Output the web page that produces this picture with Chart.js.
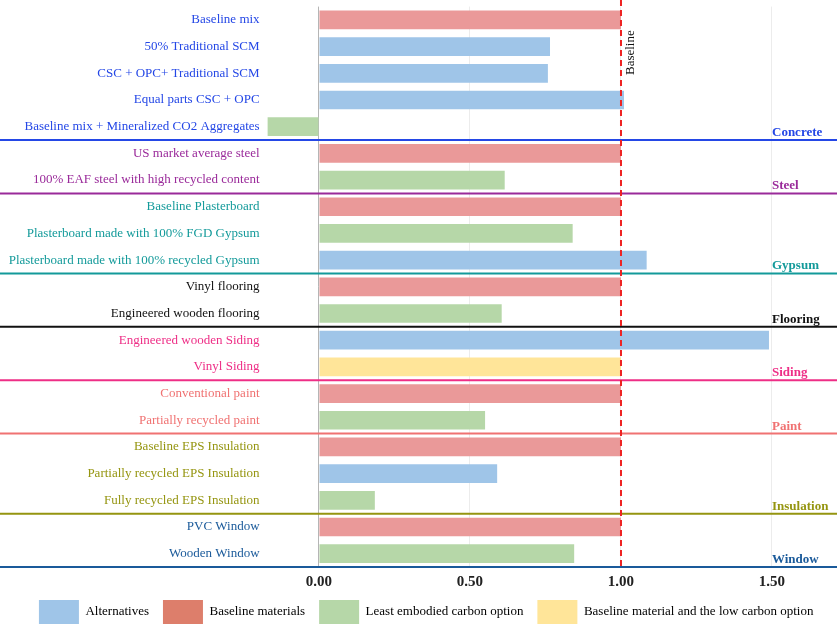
<!DOCTYPE html>
<html>
<head>
<meta charset="utf-8">
<script src="https://cdn.jsdelivr.net/npm/chart.js@4.4.1/dist/chart.umd.min.js"></script>
<style>
  html, body { margin: 0; padding: 0; background: #fff; }
  #wrap { width: 837px; height: 634px; }
</style>
</head>
<body>
<div id="wrap"><canvas id="chart"></canvas></div>
<script>
// Materials (one bar each), top to bottom
const materials = [
  'Baseline mix', '50% Traditional SCM', 'CSC + OPC+ Traditional SCM', 'Equal parts CSC + OPC',
  'Baseline mix + Mineralized CO2 Aggregates',
  'US market average steel', '100% EAF steel with high recycled content',
  'Baseline Plasterboard', 'Plasterboard made with 100% FGD Gypsum', 'Plasterboard made with 100% recycled Gypsum',
  'Vinyl flooring', 'Engineered wooden flooring',
  'Engineered wooden Siding', 'Vinyl Siding',
  'Conventional paint', 'Partially recycled paint',
  'Baseline EPS Insulation', 'Partially recycled EPS Insulation', 'Fully recycled EPS Insulation',
  'PVC Window', 'Wooden Window'
]
// Embodied carbon relative to the baseline
const ratios = [
  1.00, 0.765, 0.758, 1.01, -0.17,
  1.00, 0.615,
  1.00, 0.84, 1.085,
  1.00, 0.605,
  1.49, 1.00,
  1.00, 0.55,
  1.00, 0.59, 0.185,
  1.00, 0.845
]
// 0 = alternative, 1 = baseline, 2 = least embodied carbon, 3 = baseline + low carbon
const optionType = [
  1, 0, 0, 0, 2,
  1, 2,
  1, 2, 0,
  1, 2,
  0, 3,
  1, 2,
  1, 0, 2,
  1, 2
]
const typeNames = ['Alternatives', 'Baseline materials', 'Least embodied carbon option', 'Baseline material and the low carbon option']
const typeColors = ['#9fc5e8', '#ea9999', '#b6d7a8', '#ffe599']
const legendColors = ['#9fc5e8', '#dd7e6b', '#b6d7a8', '#ffe599']

const groups = ['Concrete', 'Steel', 'Gypsum', 'Flooring', 'Siding', 'Paint', 'Insulation', 'Window']
const groupSizes = [5, 2, 3, 2, 2, 2, 3, 2]
const groupColors = ['#2447e6', '#9a2a9a', '#139a9a', '#111111', '#ee2e86', '#f07272', '#959510', '#1a5a9a']

const xTicks = [0, 0.5, 1, 1.5]
const baselineValue = 1

const SERIF = "'Liberation Serif', 'Times New Roman', serif"

// group index of every bar
let groupOfBar = []
groupSizes.forEach((n, g) => { for(let k = 0 ; k < n ; k++) groupOfBar.push(g) })

const datasets = typeNames.map((name, t) => ({
  label: name,
  data: ratios.map((v, i) => optionType[i] === t ? v : null),
  backgroundColor: typeColors[t],
  borderWidth: 0,
  grouped: false,
  barPercentage: 0.7,
  categoryPercentage: 1
}))

// separators, group names and the baseline marker
const decorations = {
  id: 'decorations',
  afterLayout(chart) {
    // legend sits a little right of the canvas centre in the original
    chart.legend.left += 10
    chart.legend.right += 10
  },
  afterDatasetsDraw(chart) {
    const {ctx, chartArea, scales: {x, y}} = chart
    const half = (y.getPixelForValue(1) - y.getPixelForValue(0)) / 2
    ctx.save()
    let last = -1
    groups.forEach((g, gi) => {
      last += groupSizes[gi]
      const yy = y.getPixelForValue(last) + half
      ctx.strokeStyle = groupColors[gi]
      ctx.lineWidth = 2
      ctx.beginPath()
      ctx.moveTo(0, yy)
      ctx.lineTo(chart.width, yy)
      ctx.stroke()
      ctx.fillStyle = groupColors[gi]
      ctx.font = "bold 13px " + SERIF
      ctx.textAlign = 'left'
      ctx.textBaseline = 'alphabetic'
      ctx.fillText(g, x.getPixelForValue(1.5), yy - 4)
    })
    // red dashed baseline
    const bx = x.getPixelForValue(baselineValue)
    ctx.strokeStyle = '#ee2222'
    ctx.lineWidth = 2
    ctx.setLineDash([6, 4])
    ctx.beginPath()
    ctx.moveTo(bx, 0)
    ctx.lineTo(bx, chartArea.bottom)
    ctx.stroke()
    ctx.setLineDash([])
    ctx.translate(bx + 10, y.getPixelForValue(1) + 6)
    ctx.rotate(-Math.PI / 2)
    ctx.fillStyle = '#111'
    ctx.font = "13px " + SERIF
    ctx.textAlign = 'center'
    ctx.textBaseline = 'middle'
    ctx.fillText('Baseline', 0, 0)
    ctx.restore()
  }
}

new Chart(document.getElementById('chart'), {
  type: 'bar',
  data: { labels: materials, datasets: datasets },
  options: {
    indexAxis: 'y',
    responsive: true,
    maintainAspectRatio: false,
    animation: false,
    layout: { padding: { top: 6.6, right: 4.6, left: 0, bottom: 0 } },
    scales: {
      x: {
        min: -0.18,
        max: 1.7,
        afterBuildTicks: (scale) => { scale.ticks = xTicks.map(v => ({ value: v })) },
        afterFit: (scale) => { scale.height = 19 },
        border: { display: false },
        grid: {
          drawTicks: false,
          color: (c) => c.tick && c.tick.value === 0 ? '#b5b5b5' : '#ececec',
          lineWidth: 1
        },
        ticks: {
          padding: 6,
          color: '#222',
          font: { family: SERIF, size: 15, weight: 'bold' },
          callback: (v) => Number(v).toFixed(2)
        }
      },
      y: {
        afterFit: (scale) => {
          scale.width = 264.6
          scale.paddingTop = 0
          scale.paddingBottom = 0
        },
        border: { display: false },
        grid: { display: false, drawTicks: false },
        ticks: {
          padding: 5,
          color: (c) => groupColors[groupOfBar[c.index]],
          font: { family: SERIF, size: 13 }
        }
      }
    },
    plugins: {
      legend: {
        position: 'bottom',
        labels: {
          boxWidth: 40,
          boxHeight: 24,
          padding: 14,
          color: '#222',
          font: { family: SERIF, size: 13 },
          generateLabels: (chart) => typeNames.map((name, t) => ({
            text: name,
            fillStyle: legendColors[t],
            strokeStyle: legendColors[t],
            lineWidth: 0,
            datasetIndex: t
          }))
        }
      },
      tooltip: { enabled: false }
    }
  },
  plugins: [decorations]
})
</script>
</body>
</html>
